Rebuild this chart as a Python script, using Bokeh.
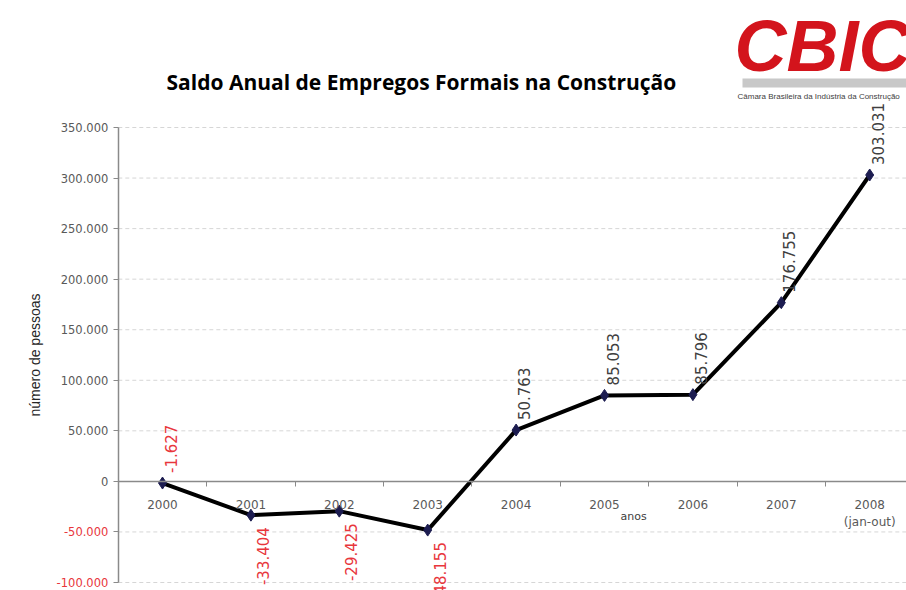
import math
from bokeh.plotting import figure
from bokeh.models import (ColumnDataSource, Range1d, FixedTicker, LinearAxis,
                          Label, BoxAnnotation)
from bokeh.core.properties import value
from bokeh.embed import file_html
from bokeh.resources import INLINE

# ---- data ----
years = ["2000", "2001", "2002", "2003", "2004", "2005", "2006", "2007", "2008"]
year_notes = ["", "", "", "", "", "", "", "", "(jan-out)"]
saldo = [-1627, -33404, -29425, -48155, 50763, 85053, 85796, 176755, 303031]
y_ticks = [-100000, -50000, 0, 50000, 100000, 150000, 200000, 250000, 300000, 350000]

title_text = "Saldo Anual de Empregos Formais na Construção"
y_title = "número de pessoas"
x_title = "anos"
logo_text = "CBIC"
logo_sub = "Câmara Brasileira da Indústria da Construção"

RED = "#e8363c"
GREY_TXT = "#595959"
AXIS_GREY = "#8a8a8a"

W, H = 906, 590

# layout targets (page pixels): first category centre and spacing, y of top/bottom ticks
X0, DX = 162.0, 88.4
Y_TOP, Y_BOT = 127.0, 582.0
Y_MAX, Y_MIN = y_ticks[-1], y_ticks[0]
K = (Y_BOT - Y_TOP) / (Y_MAX - Y_MIN)

x_start, x_end = -X0 / DX, (W - X0) / DX
y_end = Y_MAX + Y_TOP / K
y_start = Y_MIN - (H - Y_BOT) / K
x_left = -0.5


def fmt(v):
    return f"{v:,}".replace(",", ".")


def sy(Y):   # page y -> screen y measured upwards from the bottom
    return H - Y


xs = list(range(len(years)))

p = figure(width=W, height=H, output_backend="svg", toolbar_location=None,
           x_range=Range1d(x_start, x_end), y_range=Range1d(y_start, y_end),
           x_axis_type=None, y_axis_type=None,
           min_border_left=0, min_border_right=0, min_border_top=0, min_border_bottom=0)
p.outline_line_color = None
p.background_fill_color = "white"

# horizontal dashed grid lines (skip 0, where the x axis lies)
gy = [t for t in y_ticks if t != 0]
p.segment(x0=[x_left] * len(gy), x1=[x_end] * len(gy), y0=gy, y1=gy,
          line_color="#d6d6d6", line_dash="4 3", line_width=1)

# y axis (non-negative labels grey)
yax = LinearAxis(ticker=FixedTicker(ticks=y_ticks), fixed_location=x_left,
                 bounds=(Y_MIN, Y_MAX),
                 major_label_overrides={t: (fmt(t) if t >= 0 else "") for t in y_ticks},
                 axis_label=y_title, axis_label_text_font="Liberation Sans",
                 axis_label_text_font_size="14px", axis_label_text_font_style="normal",
                 axis_label_text_color="#262626", axis_label_standoff=15,
                 major_label_text_font="DejaVu Sans",
                 major_label_text_font_size="11.5px", major_label_text_color=GREY_TXT,
                 axis_line_color=AXIS_GREY, axis_line_width=1.5,
                 major_tick_line_color=AXIS_GREY, major_tick_out=5, major_tick_in=0,
                 minor_tick_line_color=None, major_label_standoff=5)
p.add_layout(yax, "left")

# negative tick labels in red
for t in y_ticks:
    if t < 0:
        p.add_layout(Label(x=x_left, y=t, text=fmt(t), x_offset=-10, text_align="right",
                           text_baseline="middle", text_font="DejaVu Sans",
                           text_font_size="11.5px", text_color=RED))

# x axis at y = 0 with year labels
xax = LinearAxis(ticker=FixedTicker(ticks=xs), fixed_location=0, bounds=(x_left, x_end),
                 major_label_overrides={i: (years[i] + ("\n" + year_notes[i] if year_notes[i] else ""))
                                        for i in xs},
                 major_label_text_font="DejaVu Sans",
                 major_label_text_font_size="12px", major_label_text_color=GREY_TXT,
                 axis_line_color=AXIS_GREY, axis_line_width=1.5,
                 major_tick_line_color=None, minor_tick_line_color=None,
                 major_label_standoff=11)
p.add_layout(xax, "below")

# boundary ticks between categories
xax2 = LinearAxis(ticker=FixedTicker(ticks=[i + 0.5 for i in xs[:-1]]), fixed_location=0,
                  major_label_overrides={i + 0.5: "" for i in xs[:-1]},
                  axis_line_color=None, major_tick_line_color=AXIS_GREY,
                  major_tick_out=5, major_tick_in=0, minor_tick_line_color=None)
p.add_layout(xax2, "below")

# data line and markers
p.line(xs, saldo, line_color="black", line_width=4)
p.scatter(xs, saldo, marker="diamond", size=12, fill_color="#1c1c50", line_color="#1c1c50")

# data labels
above = [i for i in xs if saldo[i] > -5000]
below = [i for i in xs if saldo[i] <= -5000]
src_a = ColumnDataSource(dict(x=[xs[i] for i in above], y=[saldo[i] for i in above],
                              t=[fmt(saldo[i]) for i in above],
                              c=[RED if saldo[i] < 0 else "#404040" for i in above]))
src_b = ColumnDataSource(dict(x=[xs[i] for i in below], y=[saldo[i] for i in below],
                              t=[fmt(saldo[i]) for i in below],
                              c=[RED for i in below]))
p.text(x="x", y="y", text="t", source=src_a, angle=math.pi / 2, text_align="left",
       text_baseline="middle", y_offset=-10, x_offset=8, text_color="c",
       text_font=value("DejaVu Sans"), text_font_size="15px")
p.text(x="x", y="y", text="t", source=src_b, angle=math.pi / 2, text_align="right",
       text_baseline="middle", y_offset=12, x_offset=12, text_color="c",
       text_font=value("DejaVu Sans"), text_font_size="15px")

# x axis title
p.add_layout(Label(x=5.33, y=0, text=x_title, y_offset=-35, text_align="center",
                   text_baseline="middle", text_font="DejaVu Sans",
                   text_font_size="11px", text_color="#404040"))

# title
p.add_layout(Label(x=166, y=sy(81), x_units="screen", y_units="screen", text=title_text,
                   text_align="left", text_baseline="middle",
                   text_font="Open Sans", text_font_style="bold",
                   text_font_size="21px", text_color="black"))

# logo
p.add_layout(Label(x=734, y=sy(45), x_units="screen", y_units="screen", text=logo_text,
                   text_align="left", text_baseline="middle",
                   text_font="Liberation Sans", text_font_style="bold italic",
                   text_font_size="72px", text_color="#d3141c"))
p.add_layout(BoxAnnotation(left=742, right=W, top=sy(78), bottom=sy(87),
                           left_units="screen", right_units="screen",
                           top_units="screen", bottom_units="screen",
                           fill_color="#c8c8c8", fill_alpha=1, line_color=None))
p.add_layout(Label(x=737, y=sy(96), x_units="screen", y_units="screen",
                   text=logo_sub, text_align="left", text_baseline="middle",
                   text_font="Liberation Sans", text_font_size="8px",
                   text_color="#404040"))

open("out.html", "w").write(file_html(p, INLINE))
